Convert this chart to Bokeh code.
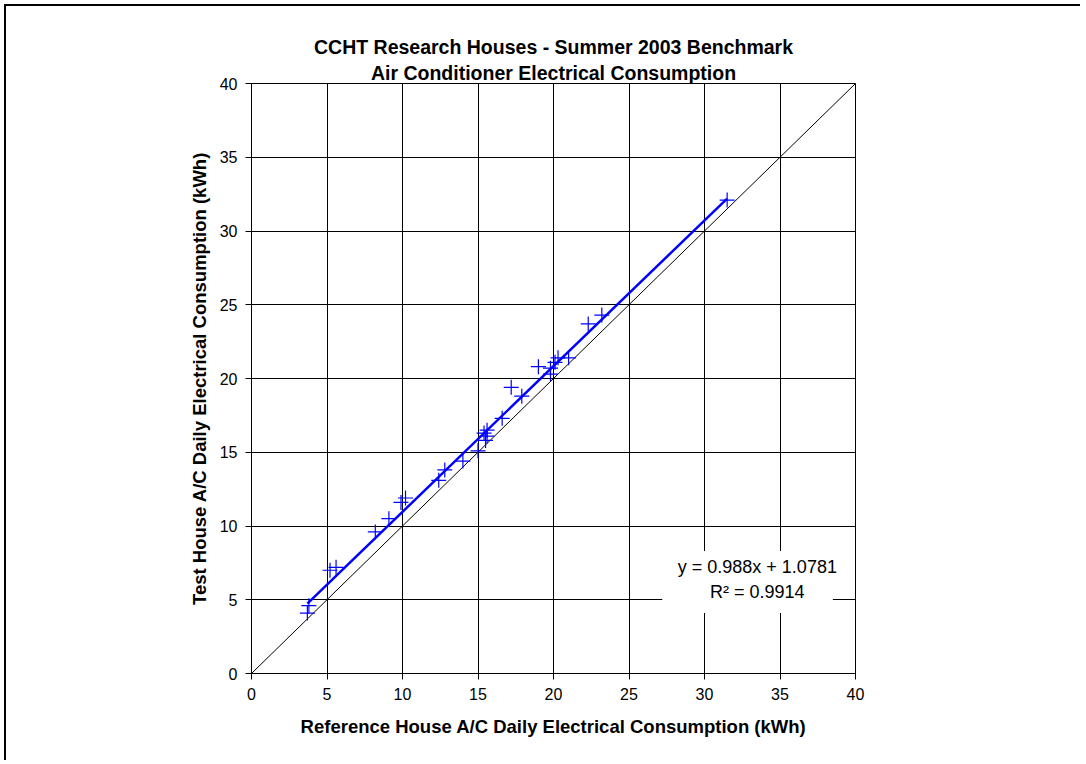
from bokeh.plotting import figure
from bokeh.models import FixedTicker, Label, BoxAnnotation, Title, Range1d
from bokeh.embed import file_html
from bokeh.resources import INLINE

# Data
ref_kwh = [3.7, 3.8, 5.2, 5.6, 8.2, 9.1, 9.9, 10.2, 12.4, 12.8, 14.0, 15.0,
           15.4, 15.5, 15.6, 15.6, 16.6, 17.2, 17.9, 19.0, 19.8, 19.8, 20.1,
           20.3, 21.0, 22.3, 23.2, 31.5]
test_kwh = [4.1, 4.6, 7.0, 7.2, 9.6, 10.5, 11.6, 11.9, 13.1, 13.8, 14.4, 15.1,
            16.3, 15.8, 16.5, 16.1, 17.3, 19.4, 18.8, 20.8, 20.3, 20.7, 21.1,
            21.4, 21.4, 23.7, 24.3, 32.1]
slope = 0.988
intercept = 1.0781
r2 = 0.9914
ticks = [0, 5, 10, 15, 20, 25, 30, 35, 40]

FONT = "Liberation Sans"

p = figure(width=1076, height=756, output_backend="svg", toolbar_location=None,
           x_range=Range1d(0, 40), y_range=Range1d(0, 40),
           min_border_left=245, min_border_right=227,
           min_border_top=77, min_border_bottom=89,
           background_fill_color="white", border_fill_color="white")
p.outline_line_color = "black"
p.outline_line_width = 1

p.add_layout(Title(text="Air Conditioner Electrical Consumption", align="center",
                   text_font=FONT, text_font_size="19.5px", text_font_style="bold",
                   text_color="black", standoff=0), "above")
p.add_layout(Title(text="CCHT Research Houses - Summer 2003 Benchmark", align="center",
                   text_font=FONT, text_font_size="19.5px", text_font_style="bold",
                   text_color="black", standoff=3), "above")

for ax in (p.xaxis[0], p.yaxis[0]):
    ax.ticker = FixedTicker(ticks=ticks)
    ax.minor_tick_line_color = None
    ax.major_tick_in = 0
    ax.major_tick_out = 6
    ax.major_tick_line_color = "black"
    ax.axis_line_color = "black"
    ax.major_label_text_font = FONT
    ax.major_label_text_font_size = "16px"
    ax.major_label_text_color = "black"
    ax.axis_label_text_font = FONT
    ax.axis_label_text_font_size = "18.5px"
    ax.axis_label_text_font_style = "bold"
    ax.axis_label_text_color = "black"

p.xaxis.axis_label = "Reference House A/C Daily Electrical Consumption (kWh)"
p.yaxis.axis_label = "Test House A/C Daily Electrical Consumption (kWh)"
p.xaxis.major_label_standoff = 8
p.yaxis.major_label_standoff = 8
p.xaxis.axis_label_standoff = 13
p.yaxis.axis_label_standoff = 7

p.xgrid.ticker = FixedTicker(ticks=ticks)
p.ygrid.ticker = FixedTicker(ticks=ticks)
p.grid.grid_line_color = "black"
p.grid.grid_line_width = 1

# 1:1 line
p.line([0, 40], [0, 40], line_color="black", line_width=1)

# regression line
xmin, xmax = min(ref_kwh), max(ref_kwh)
p.line([xmin, xmax], [slope * xmin + intercept, slope * xmax + intercept],
       line_color="#0000FF", line_width=2.5)

# data points
p.scatter(ref_kwh, test_kwh, marker="cross", size=15, line_color="#0000FF",
          line_width=1.2)

# equation box
p.add_layout(BoxAnnotation(left=27.2, right=38.5, bottom=4.1, top=8.3,
                           fill_color="white", fill_alpha=1.0, line_color=None))
p.add_layout(Label(x=33.5, y=7.2, text=f"y = {slope}x + {intercept}",
                   text_align="center", text_baseline="middle",
                   text_font=FONT, text_font_size="18px", text_color="black"))
p.add_layout(Label(x=33.5, y=5.5, text=f"R\u00b2 = {r2}",
                   text_align="center", text_baseline="middle",
                   text_font=FONT, text_font_size="18px", text_color="black"))

p.styles = {"border-left": "2px solid black", "border-top": "2px solid black",
            "margin-left": "4px", "margin-top": "4px"}

open("out.html", "w").write(file_html(p, INLINE))
